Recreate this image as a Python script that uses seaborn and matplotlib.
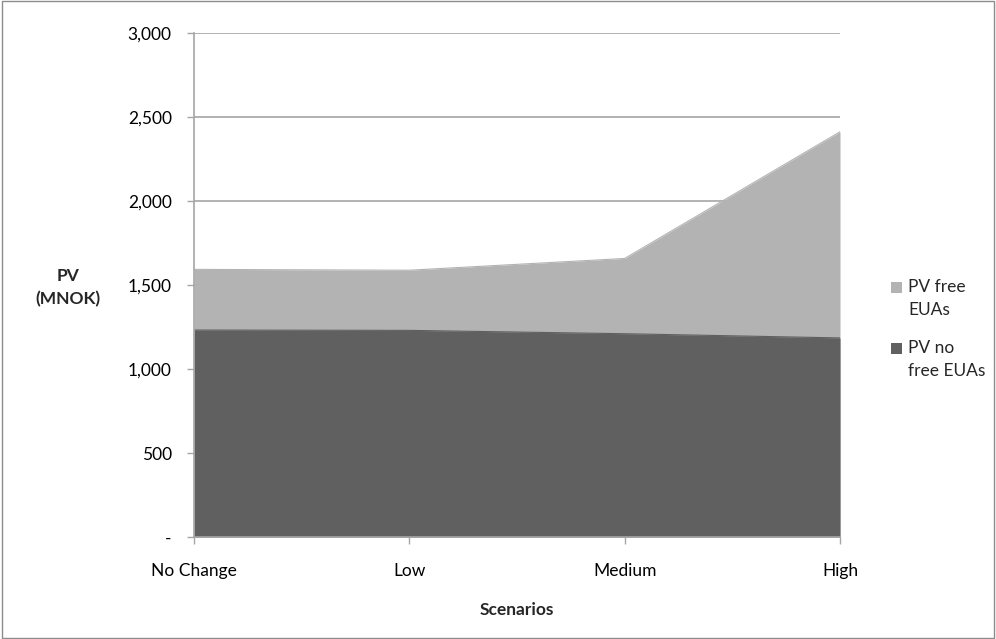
import matplotlib
matplotlib.use("Agg")
import matplotlib.pyplot as plt
from matplotlib.patches import Rectangle
from matplotlib.ticker import FuncFormatter
import seaborn as sns
import pandas as pd

scenarios = ["No Change", "Low", "Medium", "High"]
pv_free_euas = [1593, 1588, 1658, 2412]
pv_no_free_euas = [1232, 1230, 1210, 1185]
legend_lines = [["PV free", "EUAs"], ["PV no", "free EUAs"]]

df = pd.DataFrame({
    "Scenario": scenarios,
    "PV free EUAs": pv_free_euas,
    "PV no free EUAs": pv_no_free_euas,
})
df["pos"] = range(len(df))

sns.set_theme(style="white")
plt.rcParams["font.family"] = ["Lato", "DejaVu Sans"]

light = "#b3b3b3"
dark = "#606060"
grid_c = "#a6a6a6"
fs = 12.5

W, H = 996, 639
fig = plt.figure(figsize=(W / 100, H / 100), dpi=100)
ax = fig.add_axes([194 / W, 1 - 537 / H, (840 - 194) / W, (537 - 33) / H])

# overlapping areas, drawn back to front
ax.fill_between(df["pos"], df["PV free EUAs"], color=light, lw=0, zorder=2)
ax.fill_between(df["pos"], df["PV no free EUAs"], color=dark, lw=0, zorder=3)
sns.lineplot(data=df, x="pos", y="PV free EUAs", ax=ax, color=light, lw=0.8, zorder=2)
sns.lineplot(data=df, x="pos", y="PV no free EUAs", ax=ax, color=dark, lw=0.8, zorder=3)

ax.set_xlim(0, 3)
ax.set_ylim(0, 3000)
ax.set_yticks(range(0, 3001, 500))
ax.yaxis.set_major_formatter(FuncFormatter(lambda v, p: "-" if v == 0 else f"{int(v):,}"))
ax.set_xticks(df["pos"])
ax.set_xticklabels(scenarios)

ax.grid(axis="y", color=grid_c, lw=1.2, zorder=1)
ax.set_axisbelow(True)
for s in ["top", "right"]:
    ax.spines[s].set_visible(False)
for s in ["left", "bottom"]:
    ax.spines[s].set_color(grid_c)
    ax.spines[s].set_linewidth(1.2)
    ax.spines[s].set_zorder(5)

ax.tick_params(axis="both", which="major", direction="out", length=5, width=1,
               color=grid_c, labelsize=fs, labelcolor="black", bottom=True, left=True)
ax.tick_params(axis="x", pad=14)
ax.tick_params(axis="y", pad=11)

ax.set_xlabel("Scenarios", fontsize=fs, fontweight="bold", labelpad=16)
ax.set_ylabel("")
fig.text(68 / W, 1 - 276 / H, "PV", fontsize=fs, fontweight="bold", ha="center", va="center")
fig.text(68 / W, 1 - 299 / H, "(MNOK)", fontsize=fs, fontweight="bold", ha="center", va="center")

# legend: square beside the first line of each two-line label
for color, lines, y0 in [(light, legend_lines[0], 287), (dark, legend_lines[1], 348)]:
    fig.patches.append(Rectangle((891 / W, 1 - (y0 + 5.5) / H), 11 / W, 11 / H,
                                 transform=fig.transFigure, facecolor=color,
                                 edgecolor="none"))
    for i, line in enumerate(lines):
        fig.text(908 / W, 1 - (y0 + 23 * i) / H, line, fontsize=fs,
                 ha="left", va="center")

fig.patches.append(Rectangle((0.002, 0.002), 0.996, 0.996, transform=fig.transFigure,
                             fill=False, edgecolor="#8c8c8c", lw=1))

fig.savefig("out.png", dpi=100)
